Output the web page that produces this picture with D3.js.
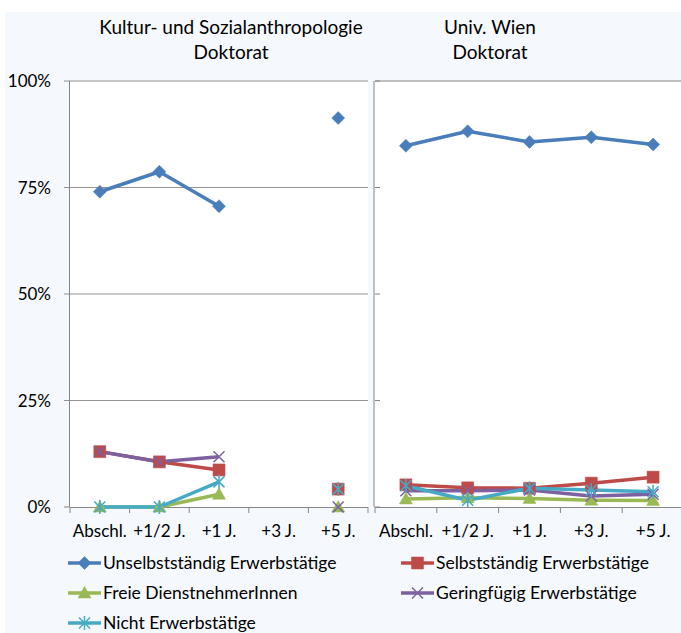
<!DOCTYPE html>
<html>
<head>
<meta charset="utf-8">
<script src="https://cdn.jsdelivr.net/npm/d3@7"></script>
<style>
  body { margin: 0; background: #fff; }
  #chart { width: 681px; height: 633px; }
  text { font-family: "Lato", sans-serif; fill: #000; }
</style>
</head>
<body>
<div id="chart"></div>
<script>
var categories = ["Abschl.", "+1/2 J.", "+1 J.", "+3 J.", "+5 J."];
var yTicks = [0, 0.25, 0.5, 0.75, 1];
var seriesNames = ["Unselbstständig Erwerbstätige", "Selbstständig Erwerbstätige", "Freie DienstnehmerInnen", "Geringfügig Erwerbstätige", "Nicht Erwerbstätige"];
var seriesColors = ["#4a7ebb", "#be4b48", "#98b954", "#7d60a0", "#46aac5"];
var seriesMarkers = ["diamond", "square", "triangle", "x", "star"];

// Kultur- und Sozialanthropologie, Doktorat (null = kein Wert)
var ksaUnselbst = [0.740, 0.787, 0.706, null, 0.913];
var ksaSelbst   = [0.130, 0.106, 0.087, null, 0.042];
var ksaFreie    = [0.000, 0.000, 0.030, null, 0.000];
var ksaGering   = [0.130, 0.106, 0.118, null, 0.000];
var ksaNicht    = [0.000, 0.000, 0.059, null, 0.042];

// Univ. Wien, Doktorat
var uniUnselbst = [0.848, 0.882, 0.857, 0.868, 0.851];
var uniSelbst   = [0.052, 0.045, 0.044, 0.056, 0.070];
var uniFreie    = [0.019, 0.022, 0.020, 0.016, 0.015];
var uniGering   = [0.038, 0.038, 0.040, 0.026, 0.030];
var uniNicht    = [0.050, 0.016, 0.044, 0.040, 0.036];

var panels = [
  { title: ["Kultur- und Sozialanthropologie", "Doktorat"], series: [ksaUnselbst, ksaSelbst, ksaFreie, ksaGering, ksaNicht] },
  { title: ["Univ. Wien", "Doktorat"], series: [uniUnselbst, uniSelbst, uniFreie, uniGering, uniNicht] }
];

var width = 681, height = 633;
var svg = d3.select("#chart").append("svg")
  .attr("width", width)
  .attr("height", height);

svg.append("rect").attr("x", 5).attr("y", 12).attr("width", width).attr("height", height)
  .attr("fill", "#f5f8fc");

var plotTop = 81, plotBottom = 507;
var y = d3.scaleLinear().domain([0, 1]).range([plotBottom, plotTop]);

var panelBox = [
  { x0: 70, x1: 368, titleX: 231, grid: true },
  { x0: 375, x1: 684, titleX: 490, grid: false }
];

function markerPath(type) {
  if (type == "diamond") return "M0,-6.5L6.5,0L0,6.5L-6.5,0Z";
  if (type == "square") return "M-6,-6H6V6H-6Z";
  if (type == "triangle") return "M0,-6.5L6.5,5H-6.5Z";
  if (type == "x") return "M-5.5,-5.5L5.5,5.5M-5.5,5.5L5.5,-5.5";
  return "M-5.5,-5.5L5.5,5.5M-5.5,5.5L5.5,-5.5M0,-7V7";
}

function drawMarker(g, type, color, cx, cy) {
  var filled = type == "diamond" || type == "square" || type == "triangle";
  g.append("path")
    .attr("d", markerPath(type))
    .attr("transform", "translate(" + cx + "," + cy + ")")
    .attr("fill", filled ? color : "none")
    .attr("stroke", color)
    .attr("stroke-width", filled ? 0.5 : 1.5);
}

panels.forEach(function(panel, pi) {
  var box = panelBox[pi];
  var x = d3.scaleBand().domain(categories).range([box.x0, box.x1]);
  var g = svg.append("g");

  g.append("rect")
    .attr("x", box.x0).attr("y", plotTop)
    .attr("width", box.x1 - box.x0).attr("height", plotBottom - plotTop)
    .attr("fill", "#fff");

  // titel
  panel.title.forEach(function(t, i) {
    g.append("text")
      .attr("x", box.titleX).attr("y", 34 + i * 25)
      .attr("text-anchor", "middle")
      .style("font-size", "19px")
      .text(t);
  });

  if (box.grid) {
    g.selectAll(".grid").data(yTicks.slice(1)).enter().append("line")
      .attr("x1", box.x0 - 6).attr("x2", box.x1)
      .attr("y1", function(d) { return y(d); })
      .attr("y2", function(d) { return y(d); })
      .attr("stroke", "#939393").attr("stroke-width", 1);
    g.selectAll(".ylab").data(yTicks).enter().append("text")
      .attr("x", 51).attr("y", function(d) { return y(d) + 6; })
      .attr("text-anchor", "end")
      .style("font-size", "17px")
      .text(function(d) { return Math.round(d * 100) + "%"; });
    g.append("line")
      .attr("x1", box.x0 - 6).attr("x2", box.x0)
      .attr("y1", plotBottom).attr("y2", plotBottom)
      .attr("stroke", "#868686");
    g.append("line")
      .attr("x1", box.x0 - 0.5).attr("x2", box.x0 - 0.5)
      .attr("y1", plotTop).attr("y2", plotBottom)
      .attr("stroke", "#868686");
  } else {
    g.append("line")
      .attr("x1", box.x0).attr("x2", box.x1)
      .attr("y1", plotTop).attr("y2", plotTop)
      .attr("stroke", "#bfbfbf").attr("stroke-width", 2);
    g.append("line")
      .attr("x1", box.x0 - 1).attr("x2", box.x0 - 1)
      .attr("y1", plotTop).attr("y2", plotBottom)
      .attr("stroke", "#bfbfbf").attr("stroke-width", 2);
    g.selectAll(".ytick").data(yTicks).enter().append("line")
      .attr("x1", box.x0).attr("x2", box.x0 + 5)
      .attr("y1", function(d) { return y(d); })
      .attr("y2", function(d) { return y(d); })
      .attr("stroke", "#868686");
  }

  // x-achse
  g.append("line")
    .attr("x1", box.x0).attr("x2", box.x1)
    .attr("y1", plotBottom + 0.5).attr("y2", plotBottom + 0.5)
    .attr("stroke", "#868686");
  var bounds = categories.map(function(c) { return x(c); }).concat([box.x1]);
  g.selectAll(".xtick").data(bounds).enter().append("line")
    .attr("x1", function(d) { return d; }).attr("x2", function(d) { return d; })
    .attr("y1", plotBottom).attr("y2", plotBottom + 6)
    .attr("stroke", "#868686");
  g.selectAll(".xlab").data(categories).enter().append("text")
    .attr("x", function(d) { return x(d) + x.bandwidth() / 2; })
    .attr("y", 537)
    .attr("text-anchor", "middle")
    .style("font-size", "17px")
    .text(function(d) { return d; });

  var line = d3.line()
    .defined(function(d) { return d != null; })
    .x(function(d, i) { return x(categories[i]) + x.bandwidth() / 2; })
    .y(function(d) { return y(d); });

  panel.series.forEach(function(vals, si) {
    g.append("path")
      .datum(vals)
      .attr("d", line)
      .attr("fill", "none")
      .attr("stroke", seriesColors[si])
      .attr("stroke-width", 3.5)
      .attr("stroke-linejoin", "round");
  });
  panel.series.forEach(function(vals, si) {
    vals.forEach(function(v, i) {
      if (v == null) return;
      drawMarker(g, seriesMarkers[si], seriesColors[si], x(categories[i]) + x.bandwidth() / 2, y(v));
    });
  });
});

// legende
var legend = svg.append("g");
seriesNames.forEach(function(name, i) {
  var lx = i % 2 == 0 ? 68 : 401;
  var ly = 563 + Math.floor(i / 2) * 30;
  legend.append("line")
    .attr("x1", lx).attr("x2", lx + 33)
    .attr("y1", ly).attr("y2", ly)
    .attr("stroke", seriesColors[i]).attr("stroke-width", 3.5);
  drawMarker(legend, seriesMarkers[i], seriesColors[i], lx + 16.5, ly);
  legend.append("text")
    .attr("x", lx + 35).attr("y", ly + 6)
    .style("font-size", "17.5px")
    .text(name);
});
</script>
</body>
</html>
